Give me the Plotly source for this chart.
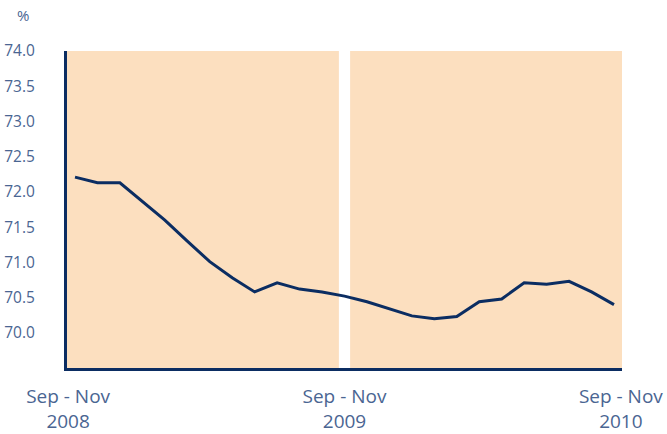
import plotly.graph_objects as go

periods = ["Sep - Nov 2008", "Oct - Dec 2008", "Nov - Jan 2009", "Dec - Feb 2009", "Jan - Mar 2009",
           "Feb - Apr 2009", "Mar - May 2009", "Apr - Jun 2009", "May - Jul 2009", "Jun - Aug 2009",
           "Jul - Sep 2009", "Aug - Oct 2009", "Sep - Nov 2009", "Oct - Dec 2009", "Nov - Jan 2010",
           "Dec - Feb 2010", "Jan - Mar 2010", "Feb - Apr 2010", "Mar - May 2010", "Apr - Jun 2010",
           "May - Jul 2010", "Jun - Aug 2010", "Jul - Sep 2010", "Aug - Oct 2010", "Sep - Nov 2010"]
rate = [72.21, 72.13, 72.13, 71.86, 71.60, 71.30, 71.01, 70.78, 70.58, 70.71,
        70.62, 70.58, 70.52, 70.44, 70.34, 70.24, 70.20, 70.23, 70.44, 70.48,
        70.71, 70.69, 70.73, 70.58, 70.40]
tick_labels = ["Sep - Nov<br>2008", "Sep - Nov<br>2009", "Sep - Nov<br>2010"]
y_ticks = [70.0, 70.5, 71.0, 71.5, 72.0, 72.5, 73.0, 73.5, 74.0]

NAVY = "#0B2D62"
TXT = "#4A6592"
SHADE = "#FCDFBF"

xi = list(range(len(periods)))
pad = 0.356
xr = [-pad, len(periods) - 1 + pad]
mid = (len(periods) - 1) / 2

fig = go.Figure()
fig.add_trace(go.Scatter(x=xi, y=rate, mode="lines",
                         line=dict(color=NAVY, width=3), text=periods,
                         hovertemplate="%{text}: %{y:.1f}%<extra></extra>"))

fig.add_shape(type="rect", xref="x", yref="paper", x0=xr[0], x1=mid - 0.25, y0=0, y1=1,
              fillcolor=SHADE, line=dict(width=0), layer="below")
fig.add_shape(type="rect", xref="x", yref="paper", x0=mid + 0.25, x1=xr[1], y0=0, y1=1,
              fillcolor=SHADE, line=dict(width=0), layer="below")

fig.add_annotation(text="%", xref="paper", yref="paper", x=-0.079, y=1.114,
                   xanchor="center", yanchor="middle",
                   showarrow=False, font=dict(size=15, color=TXT, family="Open Sans"))

fig.update_layout(
    width=667, height=434,
    margin=dict(l=67, r=45, t=51, b=66, autoexpand=False),
    paper_bgcolor="white", plot_bgcolor="white",
    showlegend=False,
    font=dict(family="Open Sans", color=TXT),
    xaxis=dict(range=xr, tickvals=[xr[0] + 0.05, mid, xr[1] - 0.05], ticktext=tick_labels,
               showgrid=False, zeroline=False, showline=True, linecolor=NAVY, linewidth=3,
               ticks="", tickfont=dict(size=19, color=TXT), ticklabelstandoff=9,
               automargin=False),
    yaxis=dict(range=[69.5, 74.0], tickvals=y_ticks, ticktext=[f"{v:.1f}" for v in y_ticks],
               showgrid=False, zeroline=False, showline=True, linecolor=NAVY, linewidth=3,
               ticks="", tickfont=dict(size=15.5, color=TXT), ticklabelstandoff=26,
               automargin=False),
)

fig.write_html("out.html")
